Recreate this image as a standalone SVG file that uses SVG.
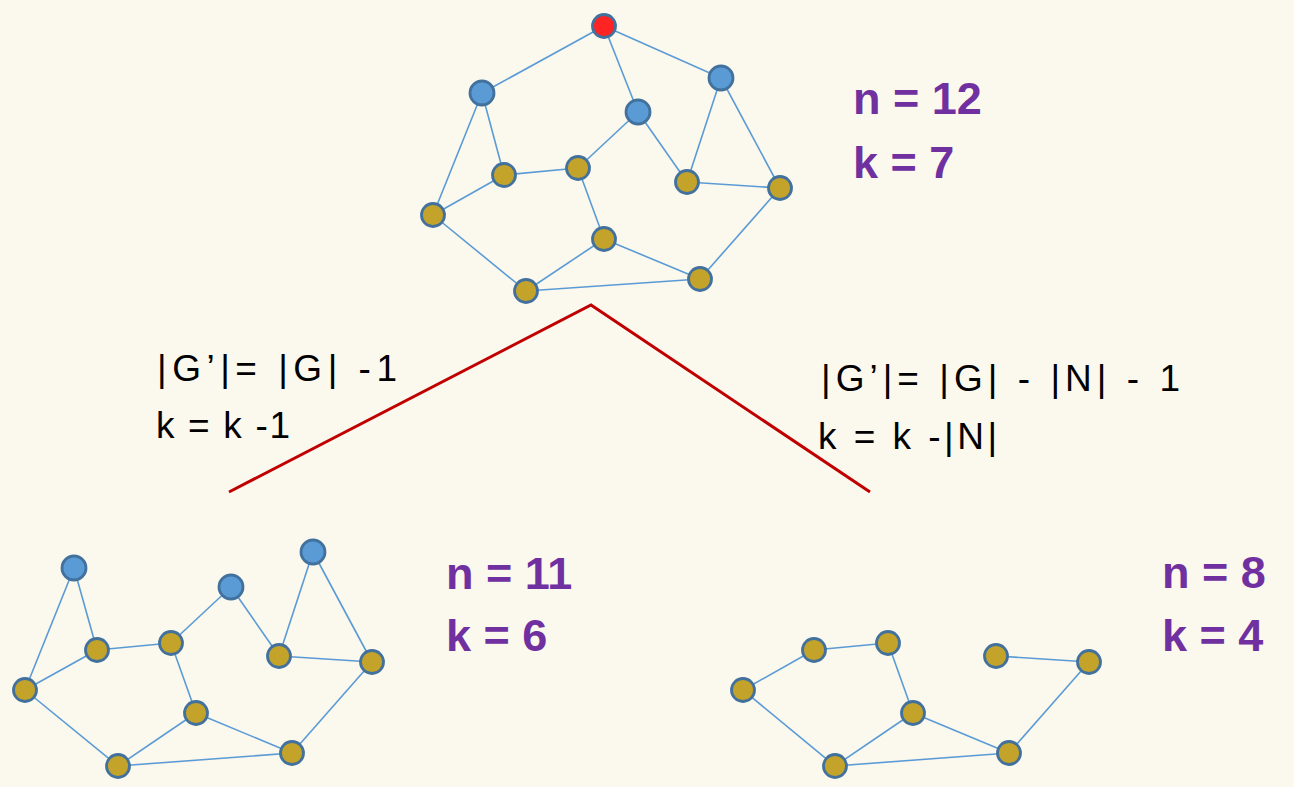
<svg xmlns="http://www.w3.org/2000/svg" width="1294" height="787" viewBox="0 0 1294 787">
<style>
.e{stroke:#5B9BD5;stroke-width:1.6;fill:none}
.g{fill:#C4A32A;stroke:#41719C;stroke-width:2.8}
.b{fill:#5B9BD5;stroke:#41719C;stroke-width:2.8}
.r{fill:#FF2424;stroke:#41719C;stroke-width:2.8}
.p{font-family:"Liberation Sans",Arial,sans-serif;font-weight:bold;font-size:45px;fill:#7030A0}
.t{font-family:"Liberation Sans",Arial,sans-serif;font-size:37px;fill:#000}
</style>
<rect width="1294" height="787" fill="#FBF8EE"/>
<g id="connectors">
<line class="e" x1="604" y1="26" x2="482" y2="93"/>
<line class="e" x1="604" y1="26" x2="638" y2="112"/>
<line class="e" x1="604" y1="26" x2="721" y2="78"/>
<line class="e" x1="482" y1="93" x2="433" y2="215"/>
<line class="e" x1="482" y1="93" x2="504" y2="175"/>
<line class="e" x1="504" y1="175" x2="578" y2="168"/>
<line class="e" x1="504" y1="175" x2="433" y2="215"/>
<line class="e" x1="578" y1="168" x2="638" y2="112"/>
<line class="e" x1="578" y1="168" x2="604" y2="239"/>
<line class="e" x1="638" y1="112" x2="687" y2="182"/>
<line class="e" x1="721" y1="78" x2="687" y2="182"/>
<line class="e" x1="721" y1="78" x2="780" y2="188"/>
<line class="e" x1="687" y1="182" x2="780" y2="188"/>
<line class="e" x1="780" y1="188" x2="700" y2="279"/>
<line class="e" x1="433" y1="215" x2="526" y2="291"/>
<line class="e" x1="604" y1="239" x2="526" y2="291"/>
<line class="e" x1="604" y1="239" x2="700" y2="279"/>
<line class="e" x1="526" y1="291" x2="700" y2="279"/>
<line class="e" x1="74" y1="568" x2="25" y2="690"/>
<line class="e" x1="74" y1="568" x2="97" y2="650"/>
<line class="e" x1="97" y1="650" x2="171" y2="643"/>
<line class="e" x1="97" y1="650" x2="25" y2="690"/>
<line class="e" x1="171" y1="643" x2="231" y2="587"/>
<line class="e" x1="171" y1="643" x2="196" y2="713"/>
<line class="e" x1="231" y1="587" x2="279" y2="656"/>
<line class="e" x1="313" y1="552" x2="279" y2="656"/>
<line class="e" x1="313" y1="552" x2="372" y2="662"/>
<line class="e" x1="279" y1="656" x2="372" y2="662"/>
<line class="e" x1="372" y1="662" x2="292" y2="753"/>
<line class="e" x1="25" y1="690" x2="118" y2="766"/>
<line class="e" x1="196" y1="713" x2="118" y2="766"/>
<line class="e" x1="196" y1="713" x2="292" y2="753"/>
<line class="e" x1="118" y1="766" x2="292" y2="753"/>
<line class="e" x1="814" y1="650" x2="888" y2="643"/>
<line class="e" x1="814" y1="650" x2="743" y2="690"/>
<line class="e" x1="888" y1="643" x2="913" y2="713"/>
<line class="e" x1="996" y1="656" x2="1089" y2="662"/>
<line class="e" x1="1089" y1="662" x2="1009" y2="753"/>
<line class="e" x1="743" y1="690" x2="835" y2="766"/>
<line class="e" x1="913" y1="713" x2="835" y2="766"/>
<line class="e" x1="913" y1="713" x2="1009" y2="753"/>
<line class="e" x1="835" y1="766" x2="1009" y2="753"/>
<polyline points="229,492 591,305 870,492" fill="none" stroke="#C00000" stroke-width="3"/>
</g>
<g id="top-graph">
<g id="t0"><circle class="r" cx="604" cy="26" r="11.5"/></g>
<g id="t1"><circle class="b" cx="482" cy="93" r="12"/></g>
<g id="t2"><circle class="b" cx="638" cy="112" r="12"/></g>
<g id="t3"><circle class="b" cx="721" cy="78" r="12"/></g>
<g id="t4"><circle class="g" cx="504" cy="175" r="11.5"/></g>
<g id="t5"><circle class="g" cx="578" cy="168" r="11.5"/></g>
<g id="t6"><circle class="g" cx="687" cy="182" r="11.5"/></g>
<g id="t7"><circle class="g" cx="780" cy="188" r="11.5"/></g>
<g id="t8"><circle class="g" cx="433" cy="215" r="11.5"/></g>
<g id="t9"><circle class="g" cx="604" cy="239" r="11.5"/></g>
<g id="t10"><circle class="g" cx="700" cy="279" r="11.5"/></g>
<g id="t11"><circle class="g" cx="526" cy="291" r="11.5"/></g>
</g>
<g id="left-graph">
<g id="l1"><circle class="b" cx="74" cy="568" r="12"/></g>
<g id="l2"><circle class="b" cx="231" cy="587" r="12"/></g>
<g id="l3"><circle class="b" cx="313" cy="552" r="12"/></g>
<g id="l4"><circle class="g" cx="97" cy="650" r="11.5"/></g>
<g id="l5"><circle class="g" cx="171" cy="643" r="11.5"/></g>
<g id="l6"><circle class="g" cx="279" cy="656" r="11.5"/></g>
<g id="l7"><circle class="g" cx="372" cy="662" r="11.5"/></g>
<g id="l8"><circle class="g" cx="25" cy="690" r="11.5"/></g>
<g id="l9"><circle class="g" cx="196" cy="713" r="11.5"/></g>
<g id="l10"><circle class="g" cx="292" cy="753" r="11.5"/></g>
<g id="l11"><circle class="g" cx="118" cy="766" r="11.5"/></g>
</g>
<g id="right-graph">
<g id="r1"><circle class="g" cx="814" cy="650" r="11.5"/></g>
<g id="r2"><circle class="g" cx="888" cy="643" r="11.5"/></g>
<g id="r3"><circle class="g" cx="996" cy="656" r="11.5"/></g>
<g id="r4"><circle class="g" cx="1089" cy="662" r="11.5"/></g>
<g id="r5"><circle class="g" cx="743" cy="690" r="11.5"/></g>
<g id="r6"><circle class="g" cx="913" cy="713" r="11.5"/></g>
<g id="r7"><circle class="g" cx="1009" cy="753" r="11.5"/></g>
<g id="r8"><circle class="g" cx="835" cy="766" r="11.5"/></g>
</g>
<g id="labels">
<text class="p" x="853" y="114">n = 12</text>
<text class="p" x="853" y="178">k = 7</text>
<text class="p" x="446" y="589">n = 11</text>
<text class="p" x="446" y="651">k = 6</text>
<text class="p" x="1162" y="588">n = 8</text>
<text class="p" x="1162" y="651">k = 4</text>
<text class="t" x="157" y="381" textLength="240" lengthAdjust="spacing">|G’|= |G|  -1</text>
<text class="t" x="156" y="438" textLength="134" lengthAdjust="spacing">k = k -1</text>
<text class="t" x="821" y="391" textLength="359" lengthAdjust="spacing">|G’|= |G| - |N| - 1</text>
<text class="t" x="818" y="449" textLength="179" lengthAdjust="spacing">k = k -|N|</text>
</g>
</svg>
